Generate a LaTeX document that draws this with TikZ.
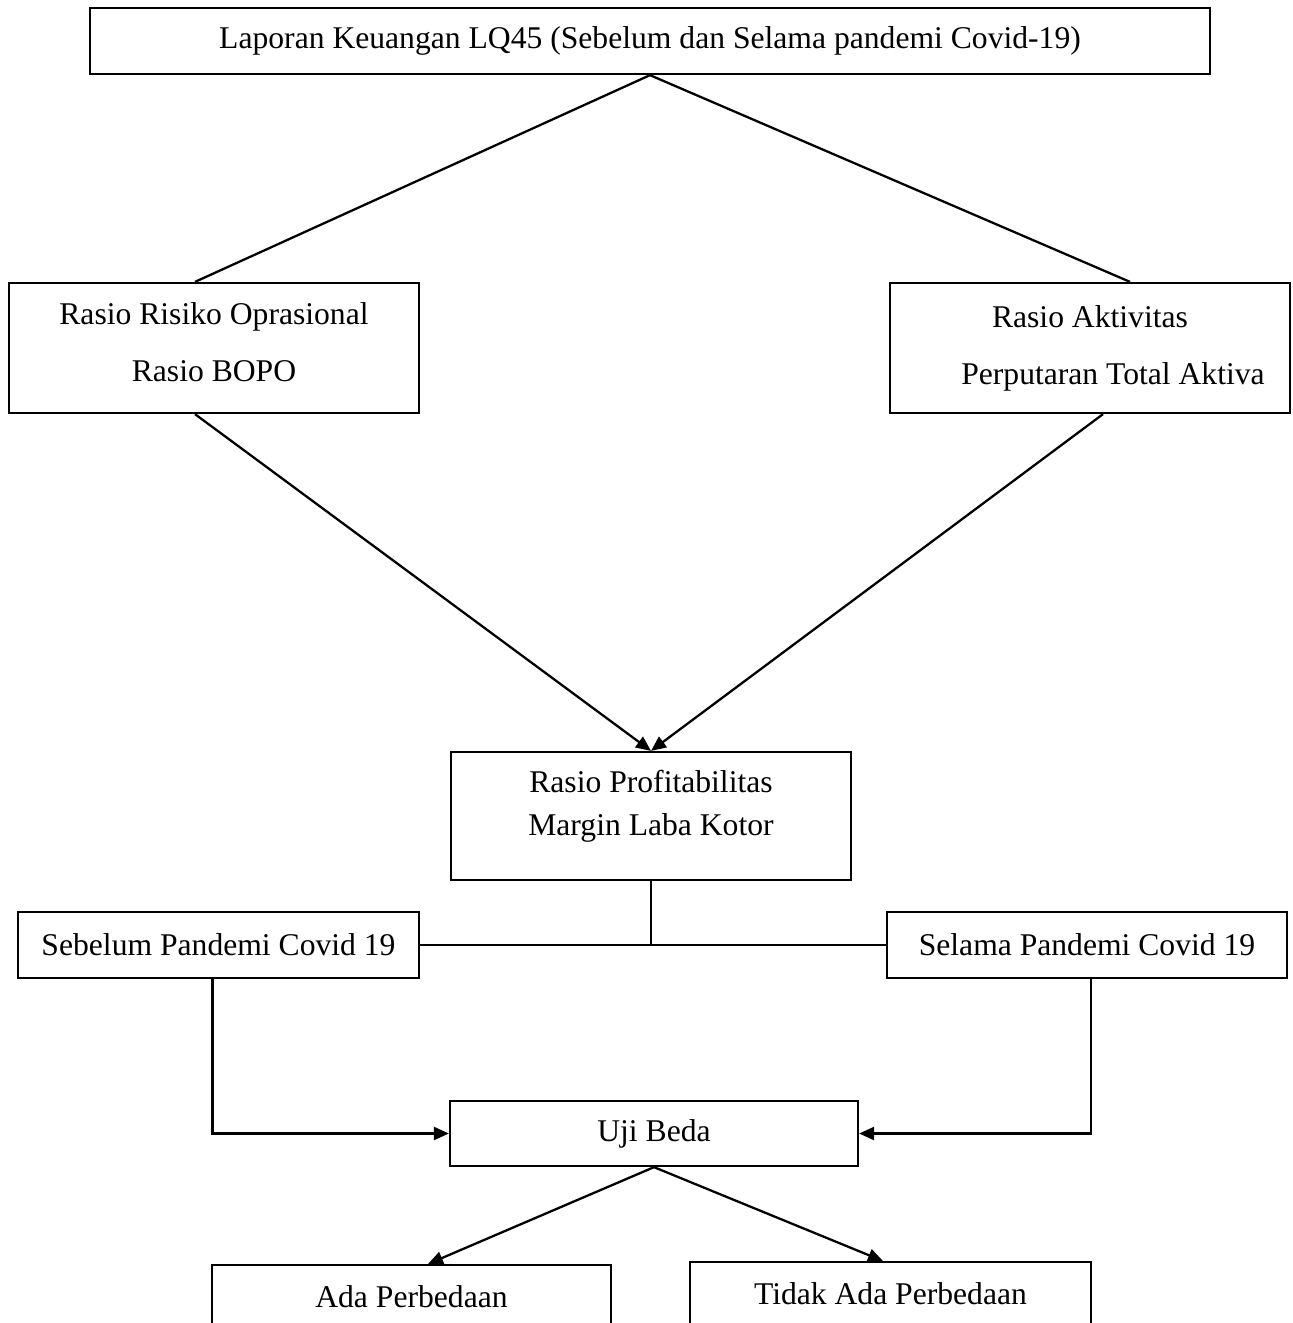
\documentclass[tikz,border=0pt]{standalone}
\usepackage{fontspec}
\setmainfont{Liberation Serif}
\usetikzlibrary{arrows.meta}
\begin{document}
\begin{tikzpicture}[
  x=0.02cm, y=-0.02cm,
  line width=1.3pt,
  every node/.style={font=\fontsize{18}{25}\selectfont},
  box/.style={rectangle, draw, inner sep=0pt, align=center},
  arr/.style={-{Triangle[length=0.3cm, width=0.26cm]}}
]
\useasboundingbox (0,0) rectangle (1293,1323);
\clip (0,0) rectangle (1293,1323);

\node[box, minimum width=22.4cm, minimum height=1.32cm] (laporan) at (650,41)
  {Laporan Keuangan LQ45 (Sebelum dan Selama pandemi Covid-19)};
\node[box, minimum width=8.2cm, minimum height=2.6cm] (risiko) at (214,348)
  {Rasio Risiko Oprasional\\[7.4pt]Rasio BOPO\\[-18pt]\mbox{}};
\node[box, minimum width=8.0cm, minimum height=2.6cm] (aktivitas) at (1090,348)
  {Rasio Aktivitas\\[7.4pt]\hspace*{0.92cm}Perputaran Total Aktiva\\[-22pt]\mbox{}};
\node[box, minimum width=8.0cm, minimum height=2.56cm] (profit) at (651,816)
  {Rasio Profitabilitas\\Margin Laba Kotor\\[-10pt]\mbox{}};
\node[box, minimum width=8.02cm, minimum height=1.32cm] (sebelum) at (218.5,945)
  {Sebelum Pandemi Covid 19};
\node[box, minimum width=8.0cm, minimum height=1.32cm] (selama) at (1087,945)
  {Selama Pandemi Covid 19};
\node[box, minimum width=8.16cm, minimum height=1.3cm] (uji) at (654,1133.5)
  {Uji Beda};
\node[box, anchor=north, minimum width=7.98cm, minimum height=1.28cm] (ada) at (411.5,1264)
  {Ada Perbedaan};
\node[box, anchor=north, minimum width=8.02cm, minimum height=1.28cm] (tidak) at (890.5,1261)
  {Tidak Ada Perbedaan};

\draw (laporan.south) -- ([xshift=-0.38cm]risiko.north);
\draw (laporan.south) -- ([xshift=0.8cm]aktivitas.north);
\draw[arr] ([xshift=-0.38cm]risiko.south) -- (profit.north);
\draw[arr] ([xshift=0.26cm]aktivitas.south) -- (profit.north);
\draw (profit.south) -- (profit.south |- sebelum.east);
\draw (sebelum.east) -- (selama.west);
\draw[arr] ([xshift=-0.12cm]sebelum.south) |- (uji.west);
\draw[arr] ([xshift=0.08cm]selama.south) |- (uji.east);
\draw[arr] (uji.south) -- ([xshift=0.33cm]ada.north);
\draw[arr] (uji.south) -- ([xshift=-0.15cm]tidak.north);
\end{tikzpicture}
\end{document}
